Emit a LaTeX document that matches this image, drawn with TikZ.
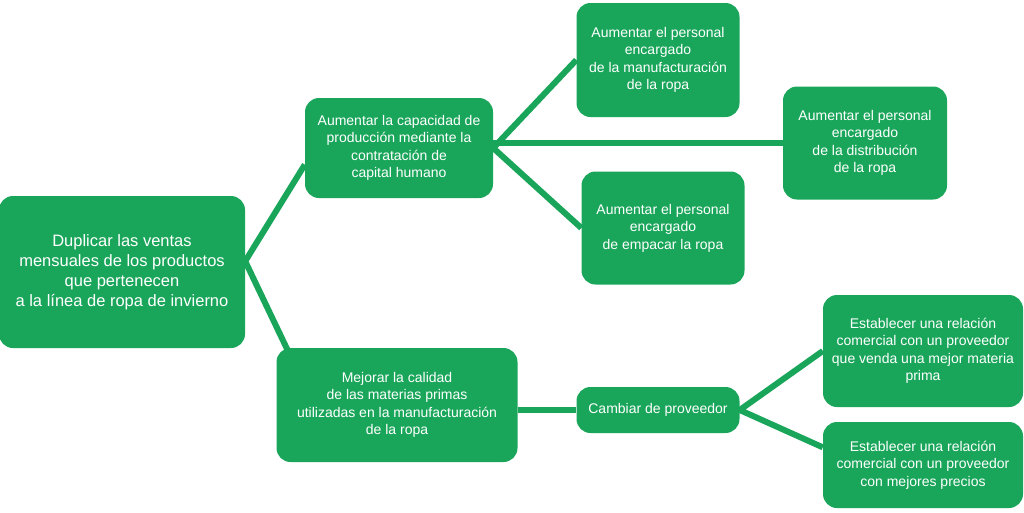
\documentclass[tikz,border=0pt]{standalone}
\usepackage{fontspec}
\setmainfont{Liberation Sans}
\usetikzlibrary{calc}
\definecolor{boxgreen}{RGB}{26,166,90}

\begin{document}
\begin{tikzpicture}[x=1pt,y=-1pt,
  box/.style={fill=boxgreen, rounded corners=14pt, align=center, text=white,
              font=\fontsize{14}{17.5}\selectfont, inner sep=2pt},
  link/.style={draw=boxgreen, line width=6pt}
]
\useasboundingbox (0,0) rectangle (1024,512);

\node[box, minimum width=246, minimum height=152, font=\fontsize{16.5}{20}\selectfont] (goal) at (122,272)
  {Duplicar las ventas\\ mensuales de los productos\\ que pertenecen\\ a la línea de ropa de invierno};
\node[box, minimum width=188, minimum height=100] (capacity) at (399,148)
  {Aumentar la capacidad de\\ producción mediante la\\ contratación de\\ capital humano};
\node[box, minimum width=163, minimum height=114] (manuf) at (658,60)
  {Aumentar el personal\\ encargado\\ de la manufacturación\\ de la ropa};
\node[box, minimum width=164, minimum height=113] (distrib) at (865,143)
  {Aumentar el personal\\ encargado\\ de la distribución\\ de la ropa};
\node[box, minimum width=163, minimum height=113] (packing) at (663,228)
  {Aumentar el personal\\ encargado\\ de empacar la ropa};
\node[box, minimum width=241, minimum height=114] (quality) at (397,405)
  {Mejorar la calidad\\ de las materias primas\\ utilizadas en la manufacturación\\ de la ropa};
\node[box, minimum width=163, minimum height=46] (supplier) at (658,410)
  {Cambiar de proveedor};
\node[box, minimum width=200, minimum height=112] (better) at (923,351)
  {Establecer una relación\\ comercial con un proveedor\\ que venda una mejor materia\\ prima};
\node[box, minimum width=200, minimum height=86] (cheaper) at (923,465)
  {Establecer una relación\\ comercial con un proveedor\\ con mejores precios};

\draw[link] (capacity.190) -- (goal.5) -- ($(quality.north west)+(14,8)$);
\draw[link] (manuf.west) -- (capacity.east) -- (packing.west);
\draw[link] (capacity.east |- distrib.west) -- (distrib.west);
\draw[link] (quality.east |- supplier.west) -- (supplier.west);
\draw[link] (better.west) -- (supplier.east) -- (cheaper.170);
\end{tikzpicture}
\end{document}
